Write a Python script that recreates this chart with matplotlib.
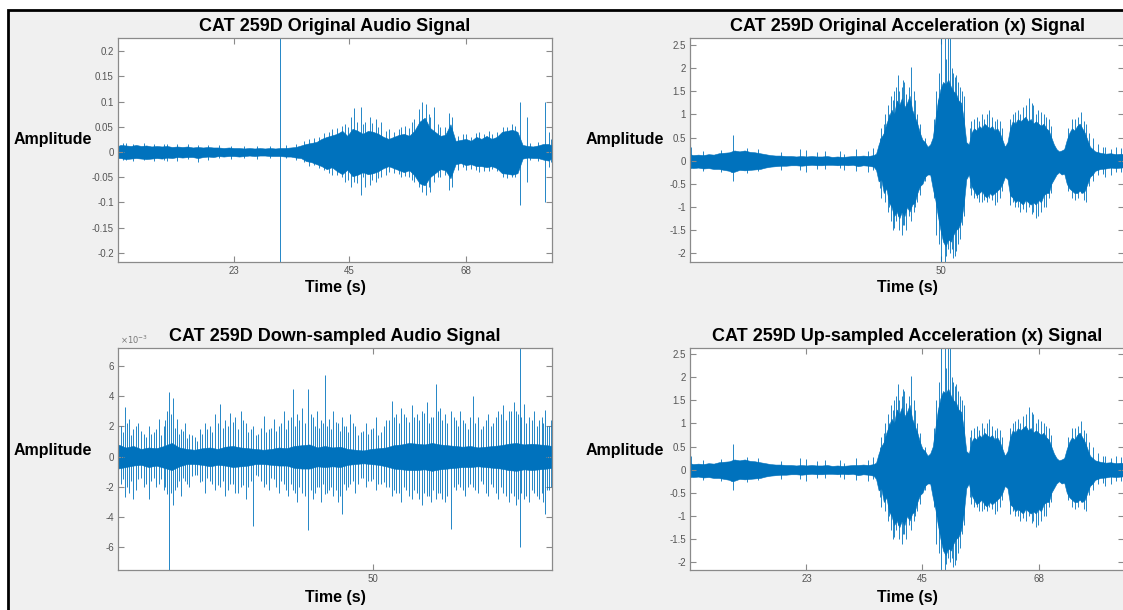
import numpy as np
import matplotlib.pyplot as plt
from matplotlib.patches import Rectangle

plt.rcParams['font.family'] = ['Liberation Sans', 'DejaVu Sans']
plt.rcParams['axes.unicode_minus'] = False

MATLAB_BLUE = '#0072BD'

# ---- original audio: dense core band + single peaks (seconds / amplitude) ----
audio_t = [0.5, 1, 2, 3, 4, 5, 6, 7, 8, 9, 10, 11, 12, 13, 14, 15, 16, 17, 18, 19, 20,
           21, 22, 23, 24, 25, 26, 27, 28, 29, 30, 31, 32, 33, 34, 35, 36, 37, 38, 39, 40,
           41, 42, 43, 44, 45, 46, 47, 48, 49, 50, 51, 52, 53, 54, 55, 56, 57, 58, 59, 60,
           61, 62, 63, 64, 65, 66, 67, 68, 69, 70, 71, 72, 73, 74, 75, 76, 77, 78, 79, 80,
           81, 82, 83, 84, 84.7]
audio_hi = [.012, .014, .013, .012, .014, .012, .013, .011, .012, .011, .012,
            .010, .011, .010, .011, .009, .010, .009, .010, .009, .009,
            .008, .009, .008, .008, .007, .008, .007, .008, .007, .008,
            .007, .008, .008, .009, .010, .013, .016, .018, .020, .026,
            .030, .033, .036, .042, .032, .046, .042, .036, .042, .040,
            .036, .030, .026, .030, .034, .036, .032, .042, .060, .068,
            .048, .040, .032, .034, .055, .022, .024, .026, .022, .030,
            .026, .032, .026, .030, .040, .042, .044, .040, .014, .012,
            .011, .013, .016, .016, .013]
audio_lo = [-.012, -.012, -.014, -.013, -.012, -.013, -.014, -.013, -.012, -.013, -.011,
            -.012, -.010, -.011, -.010, -.010, -.012, -.010, -.009, -.010, -.008,
            -.009, -.008, -.008, -.009, -.008, -.007, -.008, -.007, -.007, -.008,
            -.008, -.008, -.009, -.009, -.011, -.012, -.018, -.020, -.024, -.028,
            -.034, -.030, -.038, -.044, -.035, -.048, -.045, -.040, -.044, -.042,
            -.038, -.032, -.028, -.032, -.036, -.040, -.036, -.046, -.062, -.066,
            -.050, -.042, -.034, -.036, -.052, -.024, -.022, -.026, -.024, -.028,
            -.028, -.030, -.028, -.032, -.042, -.043, -.045, -.042, -.013, -.011,
            -.012, -.012, -.015, -.017, -.012]
audio_spk_t = [2, 10, 16, 32.0, 42.0, 44.5, 45.8, 46.2, 47.7, 48.5, 49.3, 50.5, 51.5, 53, 55.5, 57.5, 58.8,
               59.5, 60.2, 61.0, 61.8, 63, 64.8, 65.3, 68, 70.5, 72.5, 75.2, 77, 78.5, 79.8, 83.3, 84.2,
               1.5, 3.5, 5.5, 7.5, 9.5, 12, 14, 18, 20, 22.5, 25, 27.5, 30, 33, 35, 36.5, 37.5,
               38.5, 39.5, 40.5, 41.5, 43, 44, 45.2, 46.8, 48, 49.8, 51, 52.5, 54, 55, 56.2, 57,
               58, 60.8, 62.5, 64, 66.5, 67.5, 69, 70, 71.5, 73, 74, 76, 77.6, 80.5, 82, 84.5]
audio_spk_hi = [0.018, 0.016, 0.014, 0.226, 0.045, 0.055, 0.07, 0.088, 0.09, 0.06, 0.07, 0.065, 0.06, 0.045, 0.05, 0.06, 0.085,
                0.1, 0.095, 0.07, 0.09, 0.05, 0.078, 0.07, 0.035, 0.04, 0.042, 0.05, 0.055, 0.1, 0.07, 0.1, 0.04,
                .017, .016, .018, .015, .016, .015, .016, .013, .014, .012, .012, .011, .012, .013, .016, .022, .025,
                .028, .030, .038, .040, .048, .052, .050, .060, .055, .058, .050, .042, .040, .045, .052, .048,
                .065, .075, .055, .050, .032, .035, .030, .038, .035, .036, .040, .050, .052, .018, .020, .025]
audio_spk_lo = [-0.016, -0.018, -0.02, -0.218, -0.045, -0.06, -0.07, -0.06, -0.085, -0.07, -0.065, -0.06, -0.05, -0.04, -0.05, -0.055, -0.07,
                -0.08, -0.085, -0.08, -0.06, -0.05, -0.075, -0.07, -0.035, -0.04, -0.038, -0.05, -0.05, -0.105, -0.06, -0.1, -0.03,
                -.015, -.018, -.016, -.017, -.015, -.017, -.014, -.015, -.012, -.014, -.012, -.013, -.011, -.012, -.015, -.020, -.028,
                -.025, -.032, -.035, -.042, -.046, -.050, -.055, -.062, -.050, -.055, -.052, -.045, -.042, -.044, -.048, -.050,
                -.060, -.070, -.050, -.045, -.035, -.030, -.033, -.035, -.038, -.034, -.038, -.052, -.050, -.016, -.018, -.020]
audio_xticks = [23, 45.4, 68]
audio_xlabels = ['23', '45', '68']
audio_yticks = [-0.2, -0.15, -0.1, -0.05, 0, 0.05, 0.1, 0.15, 0.2]
audio_ylabels = ['-0.2', '-0.15', '-0.1', '-0.05', '0', '0.05', '0.1', '0.15', '0.2']

# ---- acceleration (x), seconds of the up-sampled signal ----
acc_t = [0.4, 1, 2, 3, 4, 5, 6, 7, 8, 8.5, 9, 10, 11, 12, 13, 14, 15, 16, 17, 18, 19,
         20, 21, 22, 23, 24, 25, 26, 27, 28, 29, 30, 31, 32, 33, 34, 35, 36,
         36.5, 37, 37.5, 38, 38.5, 39, 39.5, 40, 40.5, 41,
         41.5, 42, 42.5, 43, 43.5, 44, 44.5, 45, 45.5, 46,
         46.5, 47, 47.5, 48, 48.5, 49, 49.5, 50, 50.5, 51,
         51.5, 52, 52.5, 53, 53.5, 54, 54.5, 55, 55.5, 56,
         56.5, 57, 57.5, 58, 58.5, 59, 59.5, 60, 60.5, 61,
         61.5, 62, 62.5, 63, 63.5, 64, 64.5, 65, 65.5, 66,
         66.5, 67, 67.5, 68, 68.5, 69, 69.5, 70, 70.5, 71,
         71.5, 72, 72.5, 73, 73.5, 74, 74.5, 75, 75.5, 76,
         76.5, 77, 77.5, 78, 78.5, 79,
         80, 81, 82, 83, 84, 84.8]
acc_hi = [.14, .12, .13, .12, .14, .13, .16, .17, .18, .2, .22, .2, .22, .19, .18, .16, .14, .12, .11, .11, .1,
          .1, .09, .1, .09, .1, .09, .09, .1, .08, .09, .08, .09, .1, .1, .11, .1, .12,
          .15, .35, .5, .6, .8, .95, 1.1, 1.0, 1.3, 1.2,
          1.35, 1.15, 1.25, 1.4, 1.1, .95, .8, .6, .45, .4,
          .3, .35, .5, .9, 1.3, 1.55, 1.7, 1.65, 1.75, 1.6,
          1.5, 1.45, 1.3, 1.25, .9, .4, .35, .6, .7, .65,
          .75, .7, .8, .75, .7, .75, .65, .7, .6, .45,
          .3, .4, .7, .85, .8, .9, .85, .9, .95, .85,
          .9, .8, .85, .8, .75, .8, .7, .65, .5, .35,
          .25, .2, .22, .25, .45, .6, .7, .65, .75, .8,
          .7, .6, .45, .3, .25, .2,
          .17, .15, .16, .14, .15, .13]
acc_lo = [-.15, -.16, -.15, -.17, -.16, -.18, -.18, -.2, -.22, -.25, -.24, -.2, -.21, -.2, -.19, -.18, -.15, -.13, -.12, -.11, -.11,
          -.1, -.1, -.11, -.1, -.09, -.1, -.1, -.09, -.09, -.1, -.09, -.1, -.09, -.12, -.1, -.11, -.13,
          -.2, -.45, -.4, -.7, -.6, -.9, -1.0, -1.2, -1.1, -1.25,
          -1.1, -1.2, -1.0, -1.1, -.95, -.9, -.7, -.55, -.5, -.35,
          -.3, -.3, -.6, -.85, -1.2, -1.5, -1.75, -1.85, -1.7, -1.75,
          -1.6, -1.5, -1.45, -1.3, -.95, -.4, -.3, -.55, -.65, -.75,
          -.7, -.65, -.75, -.8, -.7, -.75, -.7, -.65, -.6, -.5,
          -.35, -.4, -.75, -.8, -.9, -.85, -.9, -.95, -.85, -.9,
          -.95, -.9, -.95, -.85, -.9, -.75, -.7, -.7, -.5, -.4,
          -.3, -.25, -.3, -.28, -.5, -.6, -.65, -.7, -.7, -.65,
          -.7, -.65, -.5, -.35, -.3, -.22,
          -.18, -.17, -.15, -.16, -.15, -.14]
acc_spk_t = [0.5, 8.7, 21.8, 23.0, 26.6, 32.6, 35.0, 35.9, 37.2, 38.0, 39.0, 39.7, 40.3, 40.7, 41.5,
             42.0, 43.3, 43.8, 44.5, 48.5, 49.1, 49.8, 50.4, 51.2, 51.8, 52.4, 53.2, 55.5, 57.0, 58.5,
             60.0, 63.0, 64.0, 65.5, 66.2, 67.0, 68.0, 69.0, 70.0, 74.5, 76.2, 77.2, 79.5, 81.0, 83.0,
             37.5, 38.3, 38.8, 39.3, 40.0, 41.0, 41.8, 42.4, 42.8, 44.0, 45.0, 46.0, 47.7, 48.2, 48.8,
             50.0, 50.8, 51.5, 52.0, 52.8, 53.5, 54.8, 55.0, 56.0, 56.5, 57.5, 58.0, 59.0, 59.5, 60.5,
             61.0, 62.5, 63.5, 64.5, 65.0, 66.8, 67.5, 68.5, 69.5, 70.5, 73.8, 75.0, 75.6, 76.8, 77.8,
             78.5, 3, 6.5, 11.5, 13.5, 18, 25, 29.5, 30.3, 80.5, 82, 84]
acc_spk_hi = [0.3, 0.55, 0.25, 0.22, 0.2, 0.25, 0.2, 0.28, 0.5, 0.8, 1.0, 1.3, 1.6, 1.85, 1.6,
              1.7, 2.03, 1.5, 1.0, 1.3, 2.65, 2.65, 2.65, 2.0, 1.8, 1.7, 1.5, 0.9, 1.0, 1.1,
              0.9, 1.0, 1.1, 1.2, 1.35, 1.2, 1.1, 1.0, 0.9, 0.9, 1.05, 0.8, 0.35, 0.3, 0.3,
              0.7, 1.0, 1.2, 1.4, 1.5, 1.5, 1.75, 1.45, 1.6, 1.3, 0.8, 0.5, 0.9, 1.5, 1.9,
              2.2, 2.65, 1.9, 1.85, 1.6, 1.4, 0.7, 0.85, 0.95, 0.85, 0.9, 1.0, 0.95, 0.85, 0.85,
              0.7, 0.9, 1.05, 1.0, 1.15, 1.25, 1.0, 1.05, 0.95, 0.75, 0.7, 0.9, 0.95, 0.85, 0.6,
              0.5, 0.2, 0.22, 0.28, 0.25, 0.18, 0.18, 0.2, 0.15, 0.3, 0.25, 0.28]
acc_spk_lo = [-0.15, -0.45, -0.2, -0.25, -0.18, -0.22, -0.25, -0.2, -0.6, -0.5, -1.0, -1.5, -1.3, -1.2, -1.6,
              -1.4, -1.3, -1.1, -0.9, -1.2, -2.2, -2.2, -1.9, -1.9, -2.06, -1.8, -1.4, -0.8, -0.9, -0.8,
              -0.9, -0.9, -1.0, -1.1, -1.0, -1.1, -1.2, -1.0, -0.8, -0.8, -0.7, -0.9, -0.3, -0.35, -0.25,
              -0.8, -0.9, -1.1, -1.3, -1.45, -1.5, -1.4, -1.5, -1.2, -1.0, -0.75, -0.45, -0.8, -1.6, -1.8,
              -2.05, -2.0, -2.1, -1.95, -1.7, -1.2, -0.6, -0.75, -0.8, -0.9, -0.85, -0.9, -0.85, -0.95, -0.8,
              -0.65, -0.95, -1.0, -1.1, -1.05, -1.15, -1.25, -1.1, -1.0, -0.7, -0.65, -0.85, -0.8, -0.85, -0.55,
              -0.45, -0.22, -0.25, -0.26, -0.23, -0.2, -0.17, -0.16, -0.2, -0.28, -0.3, -0.25]
acc_orig_scale = 1.02  # original accel time axis runs slightly longer
acc_yticks = [-2, -1.5, -1, -0.5, 0, 0.5, 1, 1.5, 2, 2.5]
acc_ylabels = ['-2', '-1.5', '-1', '-0.5', '0', '0.5', '1', '1.5', '2', '2.5']
up_xticks = [23, 45.5, 68.1]
up_xlabels = ['23', '45', '68']

# ---- down-sampled audio, amplitude in units of 1e-3 ----
ds_t = [0, 1.5, 3, 4.5, 6, 7.5, 9, 10.5, 12, 13.5, 15, 16.5, 18, 19.5, 21, 22.5, 24, 25.5,
        27, 28.5, 30, 31.5, 33, 34.5, 36, 37.5, 39, 40.5, 42, 43.5, 45, 46.5, 48, 49.5,
        51, 52.5, 54, 55.5, 57, 58.5, 60, 61.5, 63, 64.5, 66, 67.5, 69, 70.5, 72, 73.5,
        75, 76.5, 78, 79.5, 81, 82.5, 84, 85]
ds_hi = [0.8, 0.6, 0.7, 0.5, 0.6, 0.55, 0.7, 0.9, 0.6, 0.5, 0.45, 0.55, 0.6, 0.5, 0.65, 0.7, 0.6, 0.55,
         0.5, 0.45, 0.5, 0.6, 0.55, 0.7, 0.75, 0.8, 0.6, 0.7, 0.6, 0.65, 0.5, 0.45, 0.4, 0.5,
         0.55, 0.6, 0.75, 0.8, 0.9, 0.85, 0.8, 0.9, 0.8, 0.75, 0.7, 0.65, 0.7, 0.6, 0.65, 0.7,
         0.75, 0.85, 0.9, 0.8, 0.85, 0.8, 0.75, 0.7]
ds_lo = [-0.8, -0.7, -0.6, -0.55, -0.7, -0.6, -0.75, -0.9, -0.65, -0.5, -0.5, -0.55, -0.65, -0.55, -0.6, -0.7, -0.65, -0.6,
         -0.5, -0.5, -0.55, -0.6, -0.6, -0.75, -0.8, -0.8, -0.65, -0.7, -0.65, -0.7, -0.55, -0.5, -0.45, -0.5,
         -0.55, -0.65, -0.8, -0.85, -0.9, -0.9, -0.85, -0.95, -0.85, -0.8, -0.75, -0.7, -0.7, -0.65, -0.7, -0.75,
         -0.8, -0.9, -0.95, -0.85, -0.9, -0.85, -0.8, -0.75]
ds_spk_t = [0.5, 1.4, 2.2, 3.0, 4.0, 5.0, 6.0, 7.0, 8.0, 9.0,
            9.6, 10.0, 10.7, 11.5, 12.3, 13.2, 14.0, 15.0, 16.0, 17.0,
            18.0, 19.0, 20.0, 21.0, 22.0, 23.0, 24.0, 25.0, 26.0, 26.5,
            27.5, 28.5, 29.5, 30.5, 31.5, 32.5, 33.3, 34.2, 35.0, 36.0,
            37.3, 38.2, 39.0, 39.8, 40.5, 41.3, 42.2, 43.0, 43.8, 44.6,
            45.5, 46.5, 47.5, 48.5, 49.5, 50.5, 51.5, 52.5, 53.6, 54.5,
            55.5, 56.5, 57.5, 58.5, 59.5, 60.5, 61.3, 62.2, 63.0, 64.0,
            65.3, 66.2, 67.0, 68.0, 69.5, 70.5, 71.5, 72.5, 73.5, 74.5,
            75.5, 76.5, 77.5, 78.0, 78.7, 79.5, 80.5, 81.5, 82.5, 83.7,
            84.5,
            0.9, 1.8, 2.6, 3.5, 4.5, 5.5, 6.5, 7.5, 8.5, 9.3,
            10.3, 11.1, 11.9, 12.8, 13.6, 14.5, 15.5, 16.5, 17.5, 18.5,
            19.5, 20.5, 21.5, 22.5, 23.5, 24.5, 25.5, 27.0, 28.0, 29.0,
            30.0, 31.0, 32.0, 32.9, 33.8, 34.6, 35.5, 36.6, 37.8, 38.6,
            39.4, 40.1, 40.9, 41.7, 42.6, 43.4, 44.2, 45.0, 46.0, 47.0,
            48.0, 49.0, 50.0, 51.0, 52.0, 53.0, 54.0, 55.0, 56.0, 57.0,
            58.0, 59.0, 60.0, 61.0, 61.7, 62.6, 63.5, 64.5, 65.8, 66.6,
            67.5, 68.5, 69.0, 70.0, 71.0, 72.0, 73.0, 74.0, 75.0, 76.0,
            77.0, 78.3, 79.0, 80.0, 81.0, 82.0, 83.0, 83.3, 84.0, 84.8]
ds_spk_hi = [2.0, 3.3, 2.5, 1.8, 2.2, 1.5, 2.0, 1.6, 2.5, 2.0,
             3.0, 4.3, 3.9, 2.5, 1.8, 2.2, 1.5, 1.3, 1.8, 2.2,
             2.0, 2.8, 3.5, 2.4, 2.9, 2.6, 3.0, 2.2, 1.8, 2.0,
             1.5, 2.7, 1.8, 2.5, 2.0, 3.0, 2.4, 4.5, 2.8, 3.2,
             4.5, 2.6, 3.0, 2.4, 5.4, 2.5, 3.0, 2.2, 2.6, 2.0,
             2.8, 2.0, 1.6, 2.2, 1.8, 2.6, 1.6, 2.4, 3.7, 2.8,
             3.2, 2.6, 3.4, 2.8, 3.0, 3.6, 2.6, 4.8, 3.2, 2.8,
             3.0, 2.4, 3.0, 2.2, 4.0, 2.6, 2.0, 2.8, 2.2, 3.0,
             3.4, 3.0, 3.6, 3.0, 7.2, 3.5, 2.6, 3.0, 2.4, 3.1,
             2.0,
             1.6, 2.2, 1.4, 2.0, 1.7, 1.3, 1.5, 1.8, 1.4, 2.4,
             2.8, 1.9, 1.5, 1.7, 1.2, 1.4, 1.0, 1.5, 1.8, 1.6,
             2.2, 1.9, 2.0, 2.3, 1.8, 2.4, 1.6, 1.4, 1.9, 1.6,
             1.9, 1.7, 2.2, 1.8, 2.6, 2.0, 2.4, 2.2, 2.8, 2.0,
             1.9, 2.2, 2.0, 1.8, 2.3, 1.7, 2.0, 1.6, 2.2, 1.4,
             1.7, 1.5, 1.9, 1.4, 2.0, 2.4, 2.6, 2.2, 2.8, 2.3,
             2.6, 2.4, 2.9, 2.2, 2.6, 3.0, 2.4, 2.2, 2.6, 2.0,
             2.4, 1.8, 2.6, 2.2, 1.8, 2.4, 2.0, 2.6, 2.8, 2.4,
             3.0, 2.8, 2.6, 2.2, 2.4, 2.0, 2.6, 2.2, 2.0, 2.4]
ds_spk_lo = [-1.8, -2.7, -2.4, -2.8, -1.5, -2.0, -2.8, -1.4, -1.8, -2.2,
             -2.5, -7.6, -3.2, -2.0, -2.6, -1.6, -2.0, -1.2, -1.7, -2.4,
             -1.6, -2.2, -2.0, -2.6, -1.8, -2.4, -2.0, -2.8, -1.6, -4.6,
             -1.3, -2.0, -2.2, -1.5, -2.4, -1.8, -2.6, -2.2, -3.0, -2.4,
             -4.9, -2.8, -2.0, -3.0, -2.5, -2.2, -2.6, -3.0, -3.8, -2.2,
             -1.8, -2.4, -1.4, -2.0, -1.6, -2.2, -1.8, -2.0, -2.6, -2.4,
             -3.0, -2.2, -2.8, -2.4, -3.2, -2.6, -3.0, -2.8, -2.4, -3.0,
             -4.8, -2.2, -2.0, -2.6, -2.0, -2.4, -1.8, -2.6, -2.0, -2.8,
             -2.4, -3.0, -2.6, -3.2, -6.0, -2.8, -3.0, -2.4, -2.8, -3.8,
             -2.2,
             -1.5, -2.0, -1.6, -2.2, -1.4, -1.8, -1.6, -2.0, -1.5, -2.0,
             -2.4, -2.2, -1.6, -1.4, -1.8, -1.3, -1.2, -1.6, -1.4, -1.8,
             -1.9, -1.6, -2.2, -1.8, -2.4, -1.9, -2.0, -1.2, -1.6, -1.8,
             -1.4, -2.0, -1.6, -2.2, -1.8, -2.4, -2.0, -2.6, -2.2, -2.4,
             -2.0, -1.8, -2.4, -2.0, -2.2, -2.6, -1.8, -2.0, -1.6, -1.8,
             -1.4, -1.6, -1.5, -1.8, -1.7, -2.0, -2.2, -2.4, -2.0, -2.6,
             -2.2, -2.8, -2.4, -2.6, -2.2, -2.4, -2.8, -2.6, -2.0, -1.8,
             -2.2, -2.0, -1.8, -2.2, -1.6, -2.4, -1.8, -2.4, -2.0, -2.6,
             -2.4, -2.8, -2.4, -2.6, -2.2, -2.6, -2.4, -3.0, -2.2, -2.0]
ds_yticks = [-6, -4, -2, 0, 2, 4, 6]
ds_ylabels = ['-6', '-4', '-2', '0', '2', '4', '6']
ds_xticks = [50]
ds_xlabels = ['50']


def draw_signal(ax, t, hi, lo, spk_t, spk_hi, spk_lo, scale=1.0):
    ax.fill_between(np.array(t) * scale, lo, hi, color=MATLAB_BLUE, lw=0.4)
    ax.vlines(np.array(spk_t) * scale, spk_lo, spk_hi, color=MATLAB_BLUE, lw=0.6)


def style_axes(ax, title, ylab_y):
    ax.set_facecolor('white')
    for s in ax.spines.values():
        s.set_color('#8a8a8a')
        s.set_linewidth(0.9)
    ax.tick_params(direction='in', length=4, width=0.8, color='#8a8a8a',
                   labelcolor='#555555', labelsize=7, top=True, right=True, pad=3)
    ax.set_title(title, fontsize=13, fontweight='bold', pad=5)
    ax.set_xlabel('Time (s)', fontsize=11.5, fontweight='bold')
    ax.set_ylabel('Amplitude', fontsize=11.5, fontweight='bold', rotation=0)
    ax.xaxis.label.set_va('center')
    ax.yaxis.label.set_ha('center')
    ax.yaxis.label.set_va('center')
    ax.yaxis.set_label_coords(-0.15, ylab_y)


fig = plt.figure(figsize=(11.23, 6.10), dpi=100, facecolor='white')
# screenshot frame: grey window with black edge on the left and top
fig.add_artist(Rectangle((8 / 1123, -0.1), 1.2, 1.1 - 10 / 610, transform=fig.transFigure,
                         facecolor='#f0f0f0', edgecolor='black', lw=2, zorder=-1))

w, h_top, h_bot = 434 / 1123, 224 / 610, 222 / 610
ax1 = fig.add_axes([118 / 1123, 1 - 262 / 610, w, h_top])
ax2 = fig.add_axes([690 / 1123, 1 - 262 / 610, w, h_top])
ax3 = fig.add_axes([118 / 1123, 1 - 570 / 610, w, h_bot])
ax4 = fig.add_axes([690 / 1123, 1 - 570 / 610, w, h_bot])

# top left
draw_signal(ax1, audio_t, audio_hi, audio_lo, audio_spk_t, audio_spk_hi, audio_spk_lo)
ax1.set_xlim(0.5, 84.7)
ax1.set_ylim(-0.218, 0.226)
ax1.set_xticks(audio_xticks, audio_xlabels)
ax1.set_yticks(audio_yticks, audio_ylabels)
style_axes(ax1, 'CAT 259D Original Audio Signal', 0.545)
ax1.xaxis.set_label_coords(0.5, -0.116)

# top right
draw_signal(ax2, acc_t, acc_hi, acc_lo, acc_spk_t, acc_spk_hi, acc_spk_lo, scale=acc_orig_scale)
ax2.set_xlim(0.4 * acc_orig_scale, 84.6 * acc_orig_scale)
ax2.set_ylim(-2.19, 2.65)
ax2.set_xticks([50], ['50'])
ax2.set_yticks(acc_yticks, acc_ylabels)
style_axes(ax2, 'CAT 259D Original Acceleration (x) Signal', 0.545)
ax2.xaxis.set_label_coords(0.5, -0.116)

# bottom left
draw_signal(ax3, ds_t, np.array(ds_hi) * 1e-3, np.array(ds_lo) * 1e-3, ds_spk_t,
            np.array(ds_spk_hi) * 1e-3, np.array(ds_spk_lo) * 1e-3)
ax3.set_xlim(0, 85)
ax3.set_ylim(-7.53e-3, 7.2e-3)
ax3.set_xticks(ds_xticks, ds_xlabels)
ax3.set_yticks(np.array(ds_yticks) * 1e-3, ds_ylabels)
style_axes(ax3, 'CAT 259D Down-sampled Audio Signal', 0.54)
ax3.xaxis.set_label_coords(0.5, -0.126)
ax3.text(0.005, 1.008, r'$\times 10^{-3}$', transform=ax3.transAxes, fontsize=6,
         color='#777777', ha='left', va='bottom')

# bottom right
draw_signal(ax4, acc_t, acc_hi, acc_lo, acc_spk_t, acc_spk_hi, acc_spk_lo)
ax4.set_xlim(0.4, 84.6)
ax4.set_ylim(-2.17, 2.63)
ax4.set_xticks(up_xticks, up_xlabels)
ax4.set_yticks(acc_yticks, acc_ylabels)
style_axes(ax4, 'CAT 259D Up-sampled Acceleration (x) Signal', 0.54)
ax4.xaxis.set_label_coords(0.5, -0.126)

fig.savefig('out.png', dpi=100, facecolor=fig.get_facecolor())
